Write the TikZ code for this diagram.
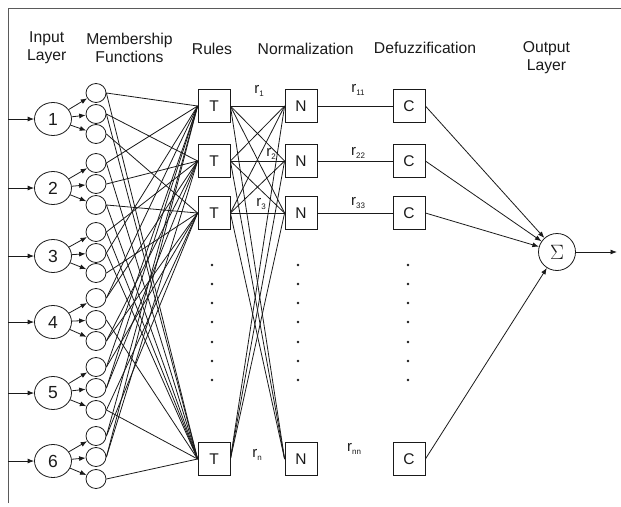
\documentclass[tikz,border=0pt]{standalone}
\usepackage{fontspec}
\setmainfont{Liberation Sans}
\usetikzlibrary{shapes.geometric, arrows.meta, positioning}
\definecolor{ink}{HTML}{1A1A1A}
\definecolor{framegray}{HTML}{5A5A5A}
\newcommand{\rsub}[1]{r\raisebox{-2.5pt}{\fontsize{8}{9}\selectfont #1}}
\tikzset{
  inlayer/.style = {ellipse, draw=ink, line width=0.8pt, minimum width=37pt,
                    minimum height=33pt, inner sep=0pt, text=ink,
                    font=\fontsize{17.5}{17.5}\selectfont},
  mfunc/.style   = {ellipse, draw=ink, line width=0.8pt, minimum width=20pt,
                    minimum height=19pt, inner sep=0pt},
  opbox/.style   = {rectangle, draw=ink, line width=0.8pt, minimum width=32pt,
                    minimum height=33pt, inner sep=0pt, text=ink,
                    font=\fontsize{15.5}{16}\selectfont},
  sumnode/.style = {circle, draw=ink, line width=0.8pt, minimum size=37pt,
                    inner sep=0pt, text=ink, font=\fontsize{21}{21}\selectfont},
  head/.style    = {align=center, anchor=north, inner sep=0pt, text=ink,
                    font=\fontsize{15.7}{17.5}\selectfont},
  rlabel/.style  = {inner sep=0pt, text=ink, font=\fontsize{15}{15}\selectfont},
  wire/.style    = {line width=0.8pt, draw=ink},
  flow/.style    = {-{Latex[length=6.5pt,width=5pt]}, line width=0.8pt, draw=ink},
}

\begin{document}
\begin{tikzpicture}[x={(1pt,0)}, y={(0,-1pt)}]
  \useasboundingbox (0,0) rectangle (621,506);
  % frame
  \draw[framegray, line width=1pt] (8,503) -- (8,8) -- (621,8);

  % headings
  \node[head] (hin) at (46.7,31.7) {Input\\Layer};
  \node[head] (hmf) at (129.5,33) {Membership\\Functions};
  \node[head] (hrule) at (212,42.7) {Rules};
  \node[head] (hnorm) at (305.7,42.7) {Normalization};
  \node[head] (hdefuz) at (425,41.7) {Defuzzification};
  \node[head] (hout) at (546.5,41.7) {Output\\Layer};

  % input layer
  \foreach \y [count=\i] in {119,188,256,322,393,461} {
    \node[inlayer] (in\i) at (53,\y) {\i};
    \coordinate (src\i) at (8,\y);
    \draw[flow] (src\i) -- (in\i);
  }

  % membership functions
  \foreach \y [count=\j] in {93,114,134,163,184,205,232,253,273,298,320,341,367,388,410,436,457,479}
    \node[mfunc] (mf\j) at (96,\y) {};
  \foreach \i in {1,...,6}
    \foreach \k in {1,2,3} {
      \pgfmathtruncatemacro\j{3*(\i-1)+\k}
      \draw[flow] (in\i) -- (mf\j);
    }

  % rules, normalization, defuzzification
  \foreach \r/\y in {1/106,2/161,3/213,n/459} {
    \node[opbox] (t\r) at (214,\y) {T};
    \node[opbox] (n\r) at (301,\y) {N};
    \node[opbox] (c\r) at (409,\y) {C};
  }
  \node[sumnode] (sum) at (557,252) {$\Sigma$};
  \coordinate (out) at (617,252);

  % membership -> rules
  \foreach \m/\r in {1/1,4/1,8/1,10/1,13/1,14/1,16/1,17/1,
                     2/2,5/2,7/2,10/2,12/2,14/2,17/2,
                     3/3,6/3,9/3,12/3,13/3,15/3,16/3,
                     1/n,2/n,4/n,6/n,7/n,8/n,11/n,15/n,18/n}
    \draw[wire] (mf\m.east) -- (t\r.west);

  % rules -> normalization
  \foreach \a/\b in {1/1,1/2,1/3,1/n,2/1,2/2,2/3,2/n,3/1,3/2,3/3,3/n,n/1,n/2,n/3}
    \draw[wire] (t\a.east) -- (n\b.west);

  % normalization -> defuzzification -> output
  \foreach \r in {1,2,3}
    \draw[wire] (n\r) -- (c\r);
  \foreach \r in {1,2,3,n}
    \draw[flow] (c\r.east) -- (sum);
  \draw[flow] (sum) -- (out);

  % dots
  \foreach \x in {212,298,408}
    \foreach \y in {265,284,303,322,342,361,380}
      \fill[ink] (\x,\y) circle (1.3pt);

  % weights
  \node[rlabel] (r1) at (259,91) {\rsub{1}};
  \node[rlabel] (r2) at (271,154) {\rsub{2}};
  \node[rlabel] (r3) at (261,204) {\rsub{3}};
  \node[rlabel] (rn) at (257,455) {\rsub{n}};
  \node[rlabel] (r11) at (358,90) {\rsub{11}};
  \node[rlabel] (r22) at (358,153) {\rsub{22}};
  \node[rlabel] (r33) at (358,203) {\rsub{33}};
  \node[rlabel] (rnn) at (354,449) {\rsub{nn}};
\end{tikzpicture}
\end{document}
